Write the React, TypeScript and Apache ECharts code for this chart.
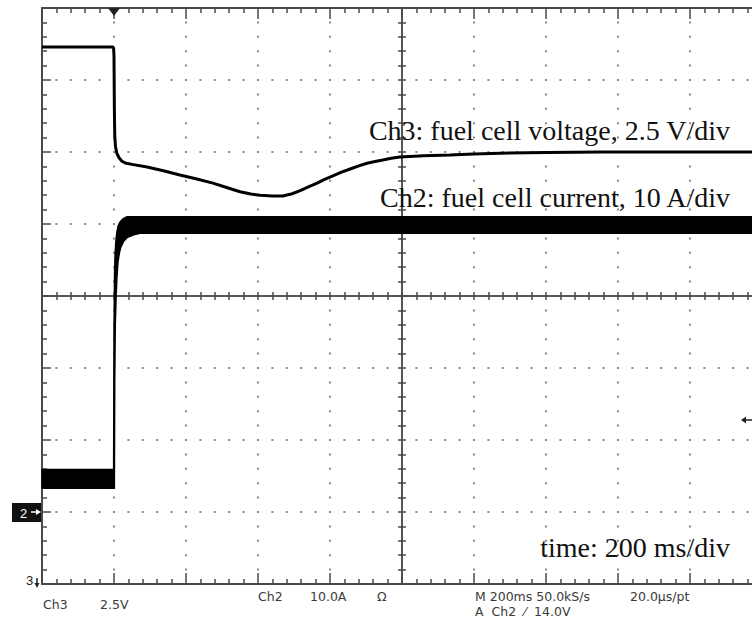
import React, { useEffect, useRef } from 'react';
import * as echarts from 'echarts';

// Ch3: fuel cell voltage (V), time in ms
const voltageTimeMs = [0, 197, 199, 200, 201, 202, 204, 208, 214, 222, 231, 250, 292, 340, 383, 430, 475, 515, 550, 580, 606, 640, 669, 695, 717, 740, 764, 785, 808, 832, 856, 880, 903, 925, 947, 970, 994, 1060, 1133, 1200, 1272, 1400, 1550, 1750, 2000];
const voltageV = [18.65, 18.65, 18.6, 18.3, 16.5, 15.6, 15.2, 14.95, 14.8, 14.68, 14.62, 14.57, 14.48, 14.34, 14.2, 14.06, 13.92, 13.76, 13.62, 13.54, 13.5, 13.47, 13.47, 13.55, 13.66, 13.79, 13.92, 14.05, 14.17, 14.3, 14.41, 14.52, 14.61, 14.67, 14.72, 14.78, 14.83, 14.87, 14.9, 14.93, 14.96, 14.98, 15.0, 15.0, 15.0];

// Ch2: fuel cell current (A), ripple band envelopes
const currentTopTimeMs = [0, 199, 200, 201.5, 203, 205, 208, 212, 217, 225, 236, 260, 2000];
const currentTopA = [5.9, 5.9, 25, 33, 35.8, 37.5, 38.9, 39.8, 40.3, 40.7, 41.0, 41.0, 41.0];
const currentBottomTimeMs = [0, 201, 202, 203.5, 206, 208, 211, 215, 219, 227, 236, 255, 272, 2000];
const currentBottomA = [3.3, 3.3, 18, 26, 30, 32.5, 34.7, 36, 36.8, 37.6, 38.1, 38.5, 38.7, 38.7];

// Scope scales
const timeRange = [0, 2000];
const timeDiv = 200;
const voltRange = [0, 20];
const voltDiv = 2.5;
const ampRange = [-10, 70];
const ampDiv = 10;

const frame = '#4a4a4a';
const dotStyle = { color: '#8a8a8a', width: 2, type: [2, 12.4], dashOffset: 1 };
const bigFont = '28px "Liberation Serif"';
const smallFont = '12.5px "DejaVu Sans"';

function edgeAxis(extra: any, majorLen: number, minorLen: number, lineWidth = 2) {
  return {
    type: 'value',
    gridIndex: 0,
    axisLine: { show: true, onZero: false, lineStyle: { color: frame, width: lineWidth } },
    axisTick: { show: true, inside: true, length: majorLen, lineStyle: { color: frame, width: 1.5 } },
    minorTick: { show: true, splitNumber: 5, length: minorLen, lineStyle: { color: frame, width: 1.5 } },
    axisLabel: { show: false },
    splitLine: { show: false },
    minorSplitLine: { show: false },
    ...extra,
  };
}

function status(text: string, x: number, y: number) {
  return { type: 'text', x, y, style: { text, font: smallFont, fill: '#3a3a3a', verticalAlign: 'middle' } };
}

export default function App() {
  const ref = useRef<HTMLDivElement>(null);
  useEffect(() => {
    const chart = echarts.init(ref.current as HTMLDivElement, null, { renderer: 'svg' });
    const xBase = { min: timeRange[0], max: timeRange[1], interval: timeDiv };
    const option: any = {
      animation: false,
      backgroundColor: '#ffffff',
      grid: [{ left: 42, top: 8, width: 720, height: 576, outerBoundsMode: 'none', containLabel: false }],
      xAxis: [
        edgeAxis({ ...xBase, position: 'bottom', splitLine: { show: true, lineStyle: dotStyle } }, 11, 5),
        edgeAxis({ ...xBase, position: 'top' }, 11, 5),
        edgeAxis({ ...xBase, position: 'bottom', offset: -288 }, 4, 4, 1.5),
        edgeAxis({ ...xBase, position: 'top', offset: -288 }, 4, 4, 1.5),
      ],
      yAxis: [
        edgeAxis({ min: voltRange[0], max: voltRange[1], interval: voltDiv, position: 'left', splitLine: { show: true, lineStyle: dotStyle } }, 9, 5),
        edgeAxis({ min: ampRange[0], max: ampRange[1], interval: ampDiv, position: 'right' }, 9, 5),
        edgeAxis({ min: voltRange[0], max: voltRange[1], interval: voltDiv, position: 'left', offset: -360 }, 4, 4, 1.5),
        edgeAxis({ min: voltRange[0], max: voltRange[1], interval: voltDiv, position: 'right', offset: -360 }, 4, 4, 1.5),
      ],
      series: [
        {
          type: 'custom',
          name: 'Ch2 current',
          coordinateSystem: 'cartesian2d',
          xAxisIndex: 0,
          yAxisIndex: 1,
          data: [[1000, 40]],
          encode: { x: 0, y: 1 },
          silent: true,
          z: 3,
          renderItem: (params: any, api: any) => {
            if (params.dataIndex !== 0) return null;
            const pts: number[][] = [];
            for (let i = 0; i < currentTopTimeMs.length; i++) pts.push(api.coord([currentTopTimeMs[i], currentTopA[i]]));
            for (let i = currentBottomTimeMs.length - 1; i >= 0; i--) pts.push(api.coord([currentBottomTimeMs[i], currentBottomA[i]]));
            return { type: 'polygon', shape: { points: pts }, style: { fill: '#000', stroke: '#000', lineWidth: 1.5 } };
          },
        },
        {
          type: 'line',
          name: 'Ch3 voltage',
          xAxisIndex: 0,
          yAxisIndex: 0,
          data: voltageTimeMs.map((t, i) => [t, voltageV[i]]),
          symbol: 'none',
          showSymbol: false,
          silent: true,
          z: 4,
          lineStyle: { color: '#000', width: 3 },
        },
      ],
      graphic: [
        { type: 'text', x: 730, y: 130, style: { text: 'Ch3: fuel cell voltage, 2.5 V/div', font: bigFont, fill: '#111', align: 'right', verticalAlign: 'middle' }, z: 10 },
        { type: 'text', x: 730, y: 197, style: { text: 'Ch2: fuel cell current, 10 A/div', font: bigFont, fill: '#111', align: 'right', verticalAlign: 'middle' }, z: 10 },
        { type: 'text', x: 730, y: 547, style: { text: 'time: 200 ms/div', font: bigFont, fill: '#111', align: 'right', verticalAlign: 'middle' }, z: 10 },
        // trigger position marker
        { type: 'polygon', shape: { points: [[108, 8], [120, 8], [114, 16]] }, style: { fill: '#222' }, z: 10 },
        // Ch2 ground marker
        { type: 'rect', shape: { x: 12, y: 503, width: 29, height: 19 }, style: { fill: '#111' }, z: 10 },
        { type: 'text', x: 20, y: 513, style: { text: '2', font: '13px "Liberation Sans"', fill: '#fff', verticalAlign: 'middle' }, z: 11 },
        { type: 'line', shape: { x1: 31, y1: 512, x2: 38, y2: 512 }, style: { stroke: '#fff', lineWidth: 1.5 }, z: 11 },
        { type: 'polygon', shape: { points: [[36, 509], [41, 512], [36, 515]] }, style: { fill: '#fff' }, z: 11 },
        // Ch3 ground marker
        { type: 'text', x: 26, y: 580, style: { text: '3', font: '13px "Liberation Sans"', fill: '#222', verticalAlign: 'middle' }, z: 10 },
        { type: 'line', shape: { x1: 37, y1: 578, x2: 37, y2: 585 }, style: { stroke: '#222', lineWidth: 1.5 }, z: 10 },
        { type: 'polygon', shape: { points: [[34.5, 583], [39.5, 583], [37, 588]] }, style: { fill: '#222' }, z: 10 },
        // trigger level marker on right
        { type: 'polygon', shape: { points: [[741, 420], [746, 416.5], [746, 423.5]] }, style: { fill: '#222' }, z: 10 },
        { type: 'line', shape: { x1: 745, y1: 420, x2: 752, y2: 420 }, style: { stroke: '#222', lineWidth: 1.5 }, z: 10 },
        // status readouts
        status('Ch3', 43, 604),
        status('2.5V', 100, 604),
        status('Ch2', 258, 596),
        status('10.0A', 310, 596),
        status('Ω', 377, 596),
        status('M 200ms 50.0kS/s', 475, 596),
        status('20.0µs/pt', 630, 596),
        status('A  Ch2  ⁄  14.0V', 475, 611),
      ],
    };
    chart.setOption(option);
    return () => chart.dispose();
  }, []);
  return <div ref={ref} style={{ position: 'absolute', left: 0, top: 0, width: 752, height: 625, background: '#fff' }} />;
}
